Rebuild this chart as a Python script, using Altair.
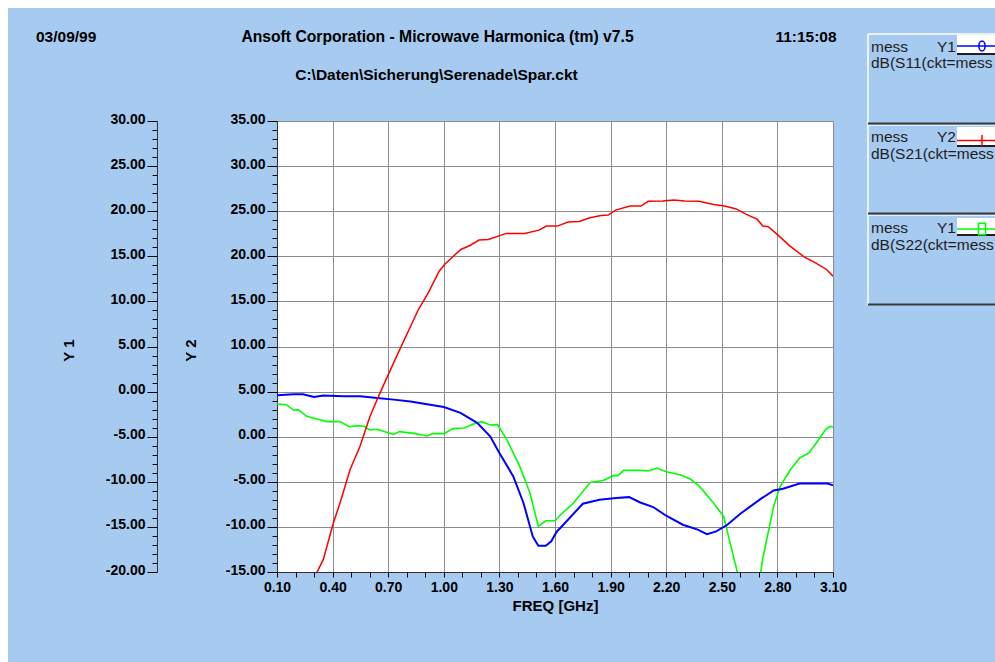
import altair as alt
import pandas as pd

# ---------------- data ----------------
s11_freq = [0.10, 0.19, 0.24, 0.30, 0.35, 0.46, 0.55, 0.64, 0.73, 0.82, 0.91, 1.00,
            1.09, 1.18, 1.25, 1.30, 1.375, 1.43, 1.48, 1.51, 1.55, 1.58, 1.61, 1.63,
            1.75, 1.84, 1.93, 2.00, 2.06, 2.13, 2.20, 2.29, 2.37, 2.42, 2.47, 2.53,
            2.60, 2.71, 2.78, 2.83, 2.92, 3.07, 3.10]
s11_db = [-0.41, -0.30, -0.30, -0.59, -0.44, -0.52, -0.52, -0.70, -0.89, -1.10, -1.41, -1.70,
          -2.36, -3.47, -4.96, -6.80, -9.40, -12.35, -16.06, -17.10, -17.10, -16.60, -15.50, -15.10,
          -12.43, -11.98, -11.80, -11.70, -12.29, -12.80, -13.76, -14.76, -15.30, -15.80, -15.50, -14.76,
          -13.54, -11.90, -10.96, -10.77, -10.20, -10.20, -10.40]

s22_freq = [0.10, 0.15, 0.19, 0.215, 0.26, 0.30, 0.37, 0.44, 0.49, 0.53, 0.57, 0.60,
            0.64, 0.69, 0.73, 0.76, 0.84, 0.91, 0.94, 1.00, 1.05, 1.11, 1.16, 1.205,
            1.25, 1.29, 1.34, 1.41, 1.465, 1.51, 1.55, 1.60, 1.63, 1.70, 1.79, 1.86,
            1.915, 1.94, 1.97, 2.06, 2.11, 2.15, 2.20, 2.275, 2.33, 2.38, 2.455, 2.51,
            2.545, 2.585, 2.62, 2.68, 2.71, 2.72, 2.78, 2.815, 2.87, 2.92, 2.97, 3.01,
            3.06, 3.085, 3.10]
s22_db = [-1.37, -1.45, -2.07, -2.00, -2.74, -2.96, -3.33, -3.33, -3.90, -3.77, -3.85, -4.25,
          -4.18, -4.50, -4.74, -4.44, -4.63, -4.92, -4.66, -4.66, -4.10, -4.03, -3.59, -3.33,
          -3.70, -3.66, -5.33, -8.29, -11.25, -14.95, -14.32, -14.32, -13.65, -12.35, -10.07, -9.85,
          -9.32, -9.32, -8.73, -8.73, -8.77, -8.47, -8.88, -9.21, -9.69, -10.51, -12.35, -13.84,
          -16.80, -20.10, -23.00, -23.00, -20.10, -18.60, -12.70, -10.50, -8.66, -7.36, -6.80, -5.69,
          -4.22, -3.85, -3.92]

s21_freq = [0.29, 0.314, 0.35, 0.404, 0.44, 0.494, 0.548, 0.602, 0.656, 0.737, 0.863, 0.916,
            0.975, 1.004, 1.092, 1.141, 1.19, 1.24, 1.338, 1.436, 1.514, 1.554, 1.612, 1.671,
            1.73, 1.789, 1.848, 1.887, 1.927, 2.005, 2.064, 2.103, 2.181, 2.24, 2.299, 2.378,
            2.456, 2.515, 2.574, 2.633, 2.692, 2.721, 2.751, 2.809, 2.868, 2.946, 3.006, 3.065,
            3.10]
s21_db = [-17.0, -15.1, -13.6, -9.57, -7.35, -3.66, -1.07, 2.26, 4.86, 8.55, 14.10, 15.95,
          18.35, 19.10, 20.76, 21.20, 21.80, 21.87, 22.54, 22.54, 22.90, 23.35, 23.35, 23.79,
          23.87, 24.28, 24.53, 24.57, 25.12, 25.57, 25.57, 26.09, 26.12, 26.23, 26.12, 26.09,
          25.75, 25.57, 25.28, 24.64, 24.09, 23.35, 23.28, 22.24, 21.13, 19.90, 19.28, 18.54,
          17.80]

x_ticks = [round(0.1 + 0.1 * i, 2) for i in range(31)]
y1_ticks = list(range(-20, 31))
y2_ticks = list(range(-15, 36))

header_texts = ["03/09/99", "Ansoft Corporation - Microwave Harmonica (tm) v7.5", "11:15:08"]
subtitle_text = "C:\\Daten\\Sicherung\\Serenade\\Spar.ckt"
legend_names = ["mess", "mess", "mess"]
legend_axes = ["Y1", "Y2", "Y1"]
legend_exprs = ["dB(S11(ckt=mess", "dB(S21(ckt=mess", "dB(S22(ckt=mess"]
series_colors = ["#0000ff", "#ff0000", "#00ff00"]

FONT = "Liberation Sans"
BG = "#A6CAF0"
GRID = "#8c8c8c"

df11 = pd.DataFrame({"freq": s11_freq, "db": s11_db})
df21 = pd.DataFrame({"freq": s21_freq, "db": s21_db})
df22 = pd.DataFrame({"freq": s22_freq, "db": s22_db})
one = pd.DataFrame({"k": [0]})

# ---------------- axes ----------------
x_major = "abs((datum.value - 0.1) / 0.3 - round((datum.value - 0.1) / 0.3)) < 0.01"
y_major = "datum.value % 5 === 0"
y_label = ("datum.value % 5 === 0 ? (datum.value < 0 ? '-' : '') + "
           "format(abs(datum.value), '.2f') : ''")

x_axis = alt.Axis(
    values=x_ticks, title="FREQ [GHz]",
    labelExpr=f"{x_major} ? format(datum.value, '.2f') : ''",
    labelOverlap=False, labelFlush=False, labelPadding=3,
    tickSize=5, tickColor="black", domainColor="#303030",
    grid=True, gridColor=GRID, gridWidth=1,
    gridOpacity={"condition": {"test": x_major, "value": 1}, "value": 0},
    titleX=278, titleY=33, titleBaseline="middle", titleAlign="center",
)

def y_axis(title, ticks, offset, grid, title_x):
    kw = dict(
        values=ticks, title=title, orient="left", offset=offset,
        labelExpr=y_label, labelOverlap=False, labelFlush=False, labelPadding=2,
        labelBaseline="middle", labelOffset=-2,
        tickSize={"condition": {"test": y_major, "value": 10}, "value": 5},
        tickColor="black", domainColor="#303030",
        titleAngle=270, titleX=title_x, titleY=229,
        titleAlign="center", titleBaseline="middle",
        grid=grid,
    )
    if grid:
        kw.update(gridColor=GRID, gridWidth=1,
                  gridOpacity={"condition": {"test": y_major, "value": 1}, "value": 0})
    return alt.Axis(**kw)

x_enc = alt.X("freq:Q", scale=alt.Scale(domain=[0.1, 3.1], nice=False, zero=False), axis=x_axis)
y1_enc = alt.Y("db:Q", scale=alt.Scale(domain=[-20, 30], nice=False, zero=False),
               axis=y_axis("Y 1", y1_ticks, 120, False, -89))
y2_enc = alt.Y("db:Q", scale=alt.Scale(domain=[-15, 35], nice=False, zero=False),
               axis=y_axis("Y 2", y2_ticks, 0, True, -87))

green = alt.Chart(df22).mark_line(color=series_colors[2], strokeWidth=1.6, clip=True).encode(
    x=x_enc, y=y1_enc, order="freq:Q")
blue = alt.Chart(df11).mark_line(color=series_colors[0], strokeWidth=2, clip=True).encode(
    x=x_enc, y=y1_enc, order="freq:Q")
red = alt.Chart(df21).mark_line(color=series_colors[1], strokeWidth=1.5, clip=True).encode(
    x=x_enc, y=y2_enc, order="freq:Q")

y1_layer = alt.layer(green, blue)

# ---------------- decorations (page frame, header, legend) ----------------
def rect(x, x2, y, y2, color):
    return alt.Chart(one).mark_rect(color=color).encode(
        x=alt.value(x), x2=alt.value(x2), y=alt.value(y), y2=alt.value(y2))

def hrule(x, x2, y, color, w):
    return alt.Chart(one).mark_rule(color=color, strokeWidth=w).encode(
        x=alt.value(x), x2=alt.value(x2), y=alt.value(y))

def vrule(x, y, y2, color, w):
    return alt.Chart(one).mark_rule(color=color, strokeWidth=w).encode(
        x=alt.value(x), y=alt.value(y), y2=alt.value(y2))

def text(s, x, y, size, weight="normal", align="left", color="black"):
    return alt.Chart(one).mark_text(
        text=s, align=align, baseline="middle", font=FONT, fontSize=size,
        fontWeight=weight, color=color).encode(x=alt.value(x), y=alt.value(y))

decos = [
    rect(-277, 718, -121, -113, "white"),
    rect(-277, -269, -121, 541, "white"),
    text(header_texts[0], -241, -84, 15.5, "bold"),
    text(header_texts[1], 160.5, -84, 15.7, "bold", "center"),
    text(header_texts[2], 529, -84, 15.5, "bold", "center"),
    text(subtitle_text, 159.5, -46, 15.5, "bold", "center"),
    # legend frame
    vrule(591, -87, 184, "white", 1.5),
    hrule(591, 718, -87, "white", 1.5),
    hrule(591, 718, 2.5, "#3a3a3a", 2),
    hrule(591, 718, 92.5, "#3a3a3a", 2),
    hrule(591, 718, 183.5, "#3a3a3a", 2),
    hrule(591, 718, 4.5, "#e8f0fa", 1),
    hrule(591, 718, 94.5, "#e8f0fa", 1),
]

ellipse = "M0,-1 A0.62,1 0 1,1 0,1 A0.62,1 0 1,1 0,-1 Z"
vtick = "M0,-1 L0,1"
square = "M-0.62,-1 L0.62,-1 L0.62,1 L-0.62,1 Z"
shapes = [(ellipse, 100), (vtick, 121), (square, 130)]
box_tops = [-86, 6, 97]
box_bottoms = [-68, 24, 113]
line_ys = [-75, 19.5, 108]
text_ys = [-74.3, 16.3, 107.3]

for i in range(3):
    decos += [
        rect(680, 720, box_tops[i], box_bottoms[i], "white"),
        hrule(680, 720, box_bottoms[i] + 1, "#202020", 2),
        hrule(680, 720, line_ys[i], series_colors[i], 1.5),
        alt.Chart(one).mark_point(shape=shapes[i][0], size=shapes[i][1], filled=False,
                                  color=series_colors[i], strokeWidth=1.5, opacity=1).encode(
            x=alt.value(705), y=alt.value(line_ys[i])),
        text(legend_names[i], 594, text_ys[i], 15.5, color="#1e1e1e"),
        text(legend_axes[i], 660, text_ys[i], 15.5, color="#1e1e1e"),
        text(legend_exprs[i], 594, text_ys[i] + 16.6, 15.5, color="#1e1e1e"),
    ]

chart = alt.layer(y1_layer, red, *decos).resolve_scale(y="independent").properties(
    width=556, height=451,
    background=BG,
    padding={"left": 277, "top": 121, "right": 162, "bottom": 90},
    autosize=alt.AutoSizeParams(type="none"),
).configure_view(
    fill="white", stroke="#6a6a6a", strokeWidth=1
).configure_axis(
    labelFont=FONT, labelFontSize=14, labelFontWeight="bold", labelColor="black",
    titleFont=FONT, titleFontSize=15, titleFontWeight="bold", titleColor="black",
    domainWidth=1, tickWidth=1,
)

chart.save("out.html", embed_options={"renderer": "svg", "actions": False})
